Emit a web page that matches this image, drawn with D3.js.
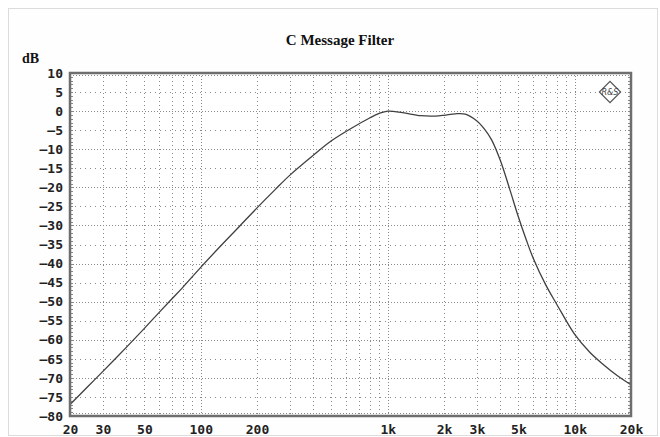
<!DOCTYPE html>
<html><head><meta charset="utf-8">
<script src="https://cdn.jsdelivr.net/npm/d3@7"></script>
<style>body{margin:0;background:#fff}</style>
</head><body><svg id="c" width="660" height="437"></svg>
<script>
// ---- data ----
const freqs  = [20, 25, 30, 40, 50, 60, 70, 80, 100, 130, 160, 200, 250, 300, 400, 500, 650, 800, 900, 1000, 1200, 1500, 1800, 2000, 2300, 2600, 3000, 3300, 3600, 4000, 4500, 5000, 5500, 6000, 7000, 8000, 10000, 12000, 14000, 17000, 20000];
const levels = [-77, -72.2, -68.3, -62, -57, -52.8, -49.3, -46.3, -41, -35, -30.4, -25.4, -20.6, -16.8, -11.6, -7.8, -4.3, -1.8, -0.6, 0, -0.4, -1.2, -1.3, -1.1, -0.7, -0.8, -2.6, -4.8, -7.6, -12.9, -20.6, -27.8, -33.7, -38.6, -45.6, -50.6, -58.6, -63.2, -66.2, -69.5, -71.8];
const yTickValues = [10, 5, 0, -5, -10, -15, -20, -25, -30, -35, -40, -45, -50, -55, -60, -65, -70, -75, -80];
const xTickValues = [20, 30, 50, 100, 200, 1000, 2000, 3000, 5000, 10000, 20000];
const xTickLabels = ["20", "30", "50", "100", "200", "1k", "2k", "3k", "5k", "10k", "20k"];
const xGridValues = [20,30,40,50,60,70,80,90,100,200,300,400,500,600,700,800,900,1000,2000,3000,4000,5000,6000,7000,8000,9000,10000,20000];
const title = "C Message Filter";
const yUnit = "dB";

const svg = d3.select("#c");
const L = 70, R = 631, T = 73, B = 416;
const x = d3.scaleLog().domain([20, 20000]).range([L, R]);
const y = d3.scaleLinear().domain([-80, 10]).range([B, T]);

// outer frame
svg.append("rect").attr("x", 8.5).attr("y", 8.5).attr("width", 649).attr("height", 427)
  .attr("fill", "#fefefe").attr("stroke", "#dcdcdc");

// title & unit
svg.append("text").attr("x", 340).attr("y", 45).attr("text-anchor", "middle")
  .attr("font-family", "Liberation Serif, Times New Roman, serif").attr("font-weight", "bold")
  .attr("font-size", 15).attr("fill", "#111").text(title);
svg.append("text").attr("x", 22).attr("y", 63)
  .attr("font-family", "Liberation Serif, Times New Roman, serif").attr("font-weight", "bold")
  .attr("font-size", 14).attr("fill", "#111").text(yUnit);

// plot bg
svg.append("rect").attr("x", L).attr("y", T).attr("width", R - L).attr("height", B - T).attr("fill", "#fff");

// grid
const g = svg.append("g");
g.selectAll("line.h").data(yTickValues.filter(d => d > -80 && d < 10)).join("line")
  .attr("x1", L).attr("x2", R).attr("y1", d => Math.round(y(d)) + 0.5).attr("y2", d => Math.round(y(d)) + 0.5)
  .attr("stroke", "#8a8a8a").attr("stroke-width", 1)
  .attr("stroke-dasharray", d => d % 10 === 0 ? "1,2" : "1,4");
g.selectAll("line.v").data(xGridValues.filter(d => d > 20 && d < 20000)).join("line")
  .attr("y1", T).attr("y2", B).attr("x1", d => Math.round(x(d)) + 0.5).attr("x2", d => Math.round(x(d)) + 0.5)
  .attr("stroke", "#8a8a8a").attr("stroke-width", 1)
  .attr("stroke-dasharray", d => [100, 1000, 10000].includes(d) ? "1,2" : "1,3");

// minor ruler ticks on frame
const minorDb = d3.range(-80, 11, 1);
g.selectAll("line.ml").data(minorDb).join("line")
  .attr("x1", L).attr("x2", L + 3).attr("y1", d => Math.round(y(d)) + 0.5).attr("y2", d => Math.round(y(d)) + 0.5)
  .attr("stroke", "#888");
g.selectAll("line.mr").data(minorDb).join("line")
  .attr("x1", R - 3).attr("x2", R).attr("y1", d => Math.round(y(d)) + 0.5).attr("y2", d => Math.round(y(d)) + 0.5)
  .attr("stroke", "#888");
g.append("line").attr("x1", L).attr("x2", R).attr("y1", B - 2.5).attr("y2", B - 2.5)
  .attr("stroke", "#888").attr("stroke-dasharray", "1,2");
g.append("line").attr("x1", L).attr("x2", R).attr("y1", T + 2.5).attr("y2", T + 2.5)
  .attr("stroke", "#888").attr("stroke-dasharray", "1,2");

// curve
const line = d3.line().x((d, i) => x(freqs[i])).y(d => y(d)).curve(d3.curveCatmullRom.alpha(0.5));
svg.append("path").datum(levels).attr("d", line)
  .attr("fill", "none").attr("stroke", "#404040").attr("stroke-width", 1.3);

// frame
svg.append("rect").attr("x", L).attr("y", T).attr("width", R - L).attr("height", B - T)
  .attr("fill", "none").attr("stroke", "#6e6e6e").attr("stroke-width", 2.5);

// axes labels
const yAxis = d3.axisLeft(y).tickValues(yTickValues).tickSize(0).tickPadding(7)
  .tickFormat(d => d < 0 ? "\u2013" + Math.abs(d) : d);
const ya = svg.append("g").attr("transform", `translate(${L - 0},0)`).call(yAxis);
ya.select(".domain").remove();
ya.selectAll("text").attr("font-family", "DejaVu Sans Mono, monospace").attr("font-weight", "bold")
  .attr("font-size", 13).attr("fill", "#222");

const xAxis = d3.axisBottom(x).tickValues(xTickValues).tickSize(0).tickPadding(9)
  .tickFormat((d, i) => xTickLabels[i]);
const xa = svg.append("g").attr("transform", `translate(0,${B})`).call(xAxis);
xa.select(".domain").remove();
xa.selectAll("text").attr("font-family", "DejaVu Sans Mono, monospace").attr("font-weight", "bold")
  .attr("font-size", 13).attr("fill", "#222");

// R&S logo
const lg = svg.append("g").attr("transform", "translate(610,92)");
lg.append("rect").attr("x", -7.5).attr("y", -7.5).attr("width", 15).attr("height", 15)
  .attr("transform", "rotate(45)").attr("fill", "#fff").attr("stroke", "#555").attr("stroke-width", 1.2);
lg.append("text").attr("text-anchor", "middle").attr("y", 3).attr("font-size", 8)
  .attr("font-family", "DejaVu Sans, sans-serif").attr("font-style", "italic").attr("fill", "#444").text("R&S");
</script></body></html>
